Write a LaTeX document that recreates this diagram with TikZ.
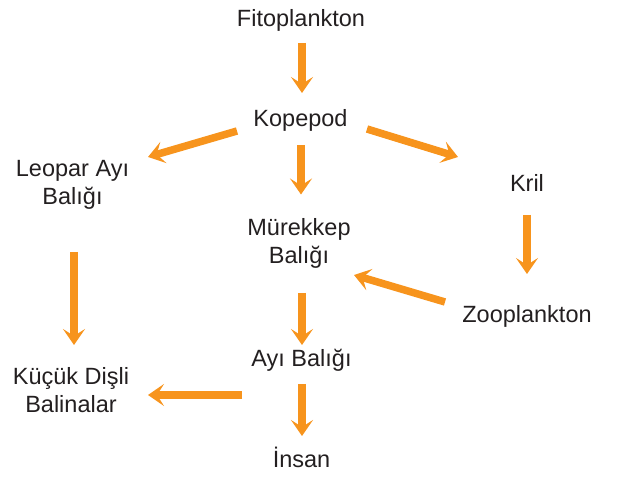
\documentclass[tikz,border=0pt]{standalone}
\usepackage{fontspec}
\setmainfont{Liberation Sans}
\usepackage{xcolor}
\usepackage{tikz}
\usetikzlibrary{arrows.meta,calc}

\definecolor{chainorange}{HTML}{F7941D}
\definecolor{chaintext}{HTML}{231F20}

\begin{document}
\begin{tikzpicture}[x=1pt, y=-1pt,
    species/.style={anchor=base, inner sep=0pt, align=center, text=chaintext,
        font=\fontsize{23.5}{28}\selectfont},
    flow/.style={draw=chainorange, line width=7.5pt,
        -{Stealth[length=16pt, width=22pt, inset=7pt]}}]

\useasboundingbox (0,0) rectangle (622,478);

% Species (base = last line)
\node[species] (fito) at (301,27) {Fitoplankton};
\node[species] (kope) at (300.5,127) {Kopepod};
\node[species] (leopar) at (72.5,205) {Leopar Ayı\\Balığı};
\node[species] (kril) at (527,192) {Kril};
\node[species] (murekkep) at (299,264) {Mürekkep\\Balığı};
\node[species] (zoo) at (527,323) {Zooplankton};
\node[species] (ayi) at (301.5,367) {Ayı Balığı};
\node[species] (kucuk) at (71,413) {Küçük Dişli\\Balinalar};
\node[species] (insan) at (301.5,468) {İnsan};

% Who eats whom
\draw[flow] ($(fito.base)+(1,16)$) -- ($(kope.base)+(1.5,-34)$);
\draw[flow] ($(kope.base)+(-63.5,4)$) -- ($(leopar.base)+(75.5,-48)$);
\draw[flow] ($(kope.base)+(0.5,18)$) -- ($(murekkep.base)+(2,-69.5)$);
\draw[flow] ($(kope.base)+(66.5,2)$) -- ($(kril.base)+(-69,-35)$);
\draw[flow] ($(kril.base)+(0,23)$) -- ($(zoo.base)+(0,-49)$);
\draw[flow] ($(zoo.base)+(-82,-21)$) -- ($(murekkep.base)+(55,11)$);
\draw[flow] ($(leopar.base)+(1.5,47)$) -- ($(kucuk.base)+(3,-68)$);
\draw[flow] ($(murekkep.base)+(3,29)$) -- ($(ayi.base)+(0.5,-22)$);
\draw[flow] ($(ayi.base)+(-59.5,28)$) -- ($(kucuk.base)+(77,-18)$);
\draw[flow] ($(ayi.base)+(0.5,17)$) -- ($(insan.base)+(0.5,-32)$);

\end{tikzpicture}
\end{document}
